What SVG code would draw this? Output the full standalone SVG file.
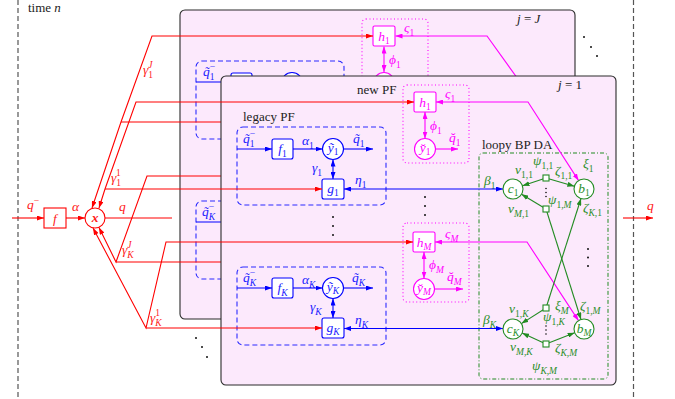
<svg xmlns="http://www.w3.org/2000/svg" width="675" height="399" viewBox="0 0 675 399">
<defs>
<style>
.m{font-family:"Liberation Serif","DejaVu Serif",serif;font-style:italic;font-size:13.5px}
.r{font-family:"Liberation Serif","DejaVu Serif",serif;font-size:13px;fill:#222}
.s{font-size:9.5px}
.d{font-style:normal}
.red{fill:#ff1a1a}
.blue{fill:#2020ff}
.mag{fill:#ff00ff}
.grn{fill:#2a8f2a}
.ink{fill:#222}
.panel{fill:#fce9fc;stroke:#2a2a2a;stroke-width:1.1}
.lr{fill:none;stroke:#ff0000;stroke-width:1.1}
.lb{fill:none;stroke:#0000ff;stroke-width:1.1}
.lm{fill:none;stroke:#ff00ff;stroke-width:1.1}
.lg{fill:none;stroke:#228b22;stroke-width:1.1}
.nr{fill:#fff;stroke:#ff0000;stroke-width:1.1}
.nb{fill:#fff;stroke:#0000ff;stroke-width:1.1}
.nm{fill:#fff;stroke:#ff00ff;stroke-width:1.1}
.ng{fill:#fff;stroke:#228b22;stroke-width:1.1}
.bbox{fill:none;stroke:#2a2aff;stroke-width:1.1;stroke-dasharray:5 3}
.mbox{fill:none;stroke:#ff00ff;stroke-width:1.1;stroke-dasharray:1 2.5}
.gbox{fill:none;stroke:#228b22;stroke-width:1;stroke-dasharray:4 2 1 2}
.sep{stroke:#555;stroke-width:1.2;stroke-dasharray:5 3}
.dot{fill:#111}
</style>
<marker id="aR" viewBox="0 0 7 5" refX="7" refY="2.5" markerWidth="7" markerHeight="5" markerUnits="userSpaceOnUse" orient="auto-start-reverse"><path d="M0,0 L7,2.5 L0,5 z" fill="#ff0000"/></marker>
<marker id="aB" viewBox="0 0 7 5" refX="7" refY="2.5" markerWidth="7" markerHeight="5" markerUnits="userSpaceOnUse" orient="auto-start-reverse"><path d="M0,0 L7,2.5 L0,5 z" fill="#0000ff"/></marker>
<marker id="aM" viewBox="0 0 7 5" refX="7" refY="2.5" markerWidth="7" markerHeight="5" markerUnits="userSpaceOnUse" orient="auto-start-reverse"><path d="M0,0 L7,2.5 L0,5 z" fill="#ff00ff"/></marker>
<marker id="aG" viewBox="0 0 7 5" refX="7" refY="2.5" markerWidth="7" markerHeight="5" markerUnits="userSpaceOnUse" orient="auto-start-reverse"><path d="M0,0 L7,2.5 L0,5 z" fill="#228b22"/></marker>
</defs>

<rect width="675" height="399" fill="#fff"/>

<g id="separators">
<line class="sep" x1="18" y1="0" x2="18" y2="399"/>
<line class="sep" x1="633.5" y1="0" x2="633.5" y2="399"/>
<text class="r" x="28" y="12">time <tspan font-style="italic">n</tspan></text>
</g>

<!-- ===== back panel j = J ===== -->
<g id="panel-J">
<rect class="panel" x="180" y="10" width="395" height="309" rx="5"/>
<text class="r" x="517" y="23"><tspan font-style="italic">j</tspan> = <tspan font-style="italic">J</tspan></text>
</g>
<g id="back-legacy-1">
<rect class="bbox" x="196" y="61" width="148" height="78" rx="6"/>
<text class="m blue" x="203" y="76">q̃<tspan class="s d" dy="3.5">1</tspan><tspan class="s d" dx="-4.8" dy="-10">−</tspan></text>
</g>
<g id="back-f1"><rect class="nb" x="231" y="73" width="21" height="19" rx="2"/></g>
<g id="back-y1"><circle class="nb" cx="292" cy="83" r="10.5"/></g>
<g id="back-legacy-K">
<rect class="bbox" x="196" y="201" width="148" height="78" rx="6"/>
<text class="m blue" x="202" y="216">q̃<tspan class="s" dy="3.5">K</tspan><tspan class="s d" dx="-6.3" dy="-10">−</tspan></text>
</g>
<g id="back-newpf-1">
<rect class="mbox" x="362" y="19" width="66" height="78" rx="4"/>
<text class="m mag" x="404" y="32">ς<tspan class="s d" dy="3.5">1</tspan></text>
<text class="m mag" x="389" y="64">ϕ<tspan class="s d" dy="3.5">1</tspan></text>
</g>
<g id="back-h1">
<rect class="nm" x="373" y="26" width="22" height="20" rx="1.5"/>
<text class="m mag" x="384" y="40.5" text-anchor="middle">h<tspan class="s d" dy="3.5">1</tspan></text>
</g>
<g id="back-ybreve1"><circle class="nm" cx="384" cy="83" r="10.5"/></g>

<g id="connectors-back">
<path class="lb" d="M196,82 L231,82" marker-end="url(#aB)"/>
<path class="lb" d="M196,222 L231,222" marker-end="url(#aB)"/>
<path class="lm" d="M384,46.5 L384,72" marker-start="url(#aM)" marker-end="url(#aM)"/>
<path class="lm" d="M395.5,36 L487,36 L543,114" marker-start="url(#aM)"/>
<path class="lr" d="M373,36 L152,36 L121,122 L92,208" marker-start="url(#aR)" marker-end="url(#aR)"/>
<path class="lr" d="M121,122 L320,122"/>
<path class="lr" d="M320,176 L147,176 L116,262 L99,227.5" marker-end="url(#aR)"/>
<path class="lr" d="M116,262 L320,262"/>
</g>

<!-- ===== front panel j = 1 ===== -->
<g id="panel-1">
<rect class="panel" x="221" y="76" width="395" height="309" rx="5"/>
<text class="r" x="558" y="89"><tspan font-style="italic">j</tspan> = 1</text>
<text class="r" x="357" y="94">new PF</text>
<text class="r" x="243" y="121">legacy PF</text>
<text class="r" x="482" y="149">loopy BP DA</text>
</g>

<g id="legacy-pf-1">
<rect class="bbox" x="237" y="127" width="149" height="78" rx="6"/>
<text class="m blue" x="243" y="143">q̃<tspan class="s d" dy="3.5">1</tspan><tspan class="s d" dx="-4.8" dy="-10">−</tspan></text>
<text class="m blue" x="302" y="145">α<tspan class="s d" dy="3.5">1</tspan></text>
<text class="m blue" x="353" y="143">q̃<tspan class="s d" dy="3.5">1</tspan></text>
<text class="m blue" x="312" y="172">γ<tspan class="s d" dy="3.5">1</tspan></text>
<text class="m blue" x="355" y="184">η<tspan class="s d" dy="3.5">1</tspan></text>
</g>
<g id="f1"><rect class="nb" x="272" y="139" width="21" height="20" rx="2"/><text class="m blue" x="282.5" y="153" text-anchor="middle">f<tspan class="s d" dy="3.5">1</tspan></text></g>
<g id="ytilde1"><circle class="nb" cx="333" cy="149" r="10.5"/><text class="m blue" x="333" y="152" text-anchor="middle">ỹ<tspan class="s d" dy="3">1</tspan></text></g>
<g id="g1"><rect class="nb" x="322" y="179" width="22" height="20" rx="2"/><text class="m blue" x="333" y="192.5" text-anchor="middle">g<tspan class="s d" dy="3.5">1</tspan></text></g>

<g id="legacy-pf-K">
<rect class="bbox" x="237" y="267" width="149" height="78" rx="6"/>
<text class="m blue" x="243" y="282">q̃<tspan class="s" dy="3.5">K</tspan><tspan class="s d" dx="-6.3" dy="-10">−</tspan></text>
<text class="m blue" x="302" y="284">α<tspan class="s" dy="3.5">K</tspan></text>
<text class="m blue" x="352" y="282">q̃<tspan class="s" dy="3.5">K</tspan></text>
<text class="m blue" x="310" y="311">γ<tspan class="s" dy="3.5">K</tspan></text>
<text class="m blue" x="355" y="324">η<tspan class="s" dy="3.5">K</tspan></text>
</g>
<g id="fK"><rect class="nb" x="272" y="278" width="21" height="20" rx="2"/><text class="m blue" x="282.5" y="292" text-anchor="middle">f<tspan class="s" dy="3.5">K</tspan></text></g>
<g id="ytildeK"><circle class="nb" cx="333" cy="288" r="10.5"/><text class="m blue" x="333" y="291" text-anchor="middle">ỹ<tspan class="s" dy="3">K</tspan></text></g>
<g id="gK"><rect class="nb" x="322" y="318" width="22" height="20" rx="2"/><text class="m blue" x="333" y="331.5" text-anchor="middle">g<tspan class="s" dy="3.5">K</tspan></text></g>

<g id="new-pf-1">
<rect class="mbox" x="403" y="85" width="66" height="78" rx="4"/>
<text class="m mag" x="445" y="98">ς<tspan class="s d" dy="3.5">1</tspan></text>
<text class="m mag" x="430" y="130">ϕ<tspan class="s d" dy="3.5">1</tspan></text>
<text class="m mag" x="449" y="142">q̆<tspan class="s d" dy="3.5">1</tspan></text>
</g>
<g id="h1"><rect class="nm" x="414" y="92" width="22" height="20" rx="1.5"/><text class="m mag" x="425" y="106.5" text-anchor="middle">h<tspan class="s d" dy="3.5">1</tspan></text></g>
<g id="ybreve1"><circle class="nm" cx="425" cy="149" r="10.5"/><text class="m mag" x="425" y="152" text-anchor="middle">y̆<tspan class="s d" dy="3">1</tspan></text></g>

<g id="new-pf-M">
<rect class="mbox" x="403" y="223" width="66" height="79" rx="4"/>
<text class="m mag" x="445" y="238">ς<tspan class="s" dy="3.5">M</tspan></text>
<text class="m mag" x="429" y="269">ϕ<tspan class="s" dy="3.5">M</tspan></text>
<text class="m mag" x="447" y="281">q̆<tspan class="s" dy="3.5">M</tspan></text>
</g>
<g id="hM"><rect class="nm" x="413" y="232" width="22" height="20" rx="1.5"/><text class="m mag" x="424" y="246.5" text-anchor="middle">h<tspan class="s" dy="3.5">M</tspan></text></g>
<g id="ybreveM"><circle class="nm" cx="424" cy="289" r="10.5"/><text class="m mag" x="424" y="292" text-anchor="middle">y̆<tspan class="s" dy="3">M</tspan></text></g>

<g id="loopy-bp-da">
<rect class="gbox" x="479" y="153" width="129" height="226" rx="4"/>
<text class="m grn" x="484" y="185">β<tspan class="s d" dy="3.5">1</tspan></text>
<text class="m grn" x="483" y="324">β<tspan class="s" dy="3.5">K</tspan></text>
<text class="m grn" x="515" y="174">ν<tspan class="s d" dy="3.5">1,1</tspan></text>
<text class="m grn" x="533" y="165">ψ<tspan class="s d" dy="3.5">1,1</tspan></text>
<text class="m grn" x="555" y="175">ζ<tspan class="s d" dy="3.5">1,1</tspan></text>
<text class="m grn" x="583" y="168">ξ<tspan class="s d" dy="3.5">1</tspan></text>
<text class="m grn" x="548" y="204">ψ<tspan class="s" dy="3.5"><tspan class="d">1,</tspan>M</tspan></text>
<text class="m grn" x="508" y="213">ν<tspan class="s" dy="3.5">M<tspan class="d">,1</tspan></tspan></text>
<text class="m grn" x="583" y="212">ζ<tspan class="s" dy="3.5">K<tspan class="d">,1</tspan></tspan></text>
<text class="m grn" x="509" y="313">ν<tspan class="s" dy="3.5"><tspan class="d">1,</tspan>K</tspan></text>
<text class="m grn" x="555" y="310">ξ<tspan class="s" dy="3.5">M</tspan></text>
<text class="m grn" x="580" y="310">ζ<tspan class="s" dy="3.5"><tspan class="d">1,</tspan>M</tspan></text>
<text class="m grn" x="543" y="321">ψ<tspan class="s" dy="3.5"><tspan class="d">1,</tspan>K</tspan></text>
<text class="m grn" x="510" y="351">ν<tspan class="s" dy="3.5">M,K</tspan></text>
<text class="m grn" x="555" y="352">ζ<tspan class="s" dy="3.5">K,M</tspan></text>
<text class="m grn" x="532" y="370">ψ<tspan class="s" dy="3.5">K,M</tspan></text>
</g>

<g id="node-f"><rect class="nr" x="44" y="208" width="22" height="20"/><text class="m red" x="55" y="222.5" text-anchor="middle">f</text></g>
<g id="node-x"><circle class="nr" cx="95" cy="218" r="10"/><text class="m red" x="95" y="221.5" text-anchor="middle" font-weight="bold">x</text></g>

<g id="connectors">
<path class="lr" d="M12,218 L44,218" marker-end="url(#aR)"/>
<path class="lr" d="M66,218 L85,218" marker-end="url(#aR)"/>
<path class="lr" d="M105,218 L172,218"/>
<path class="lr" d="M623,218 L653,218" marker-end="url(#aR)"/>
<path class="lr" d="M414,102 L136,102 L105,189 L99,208" marker-start="url(#aR)" marker-end="url(#aR)"/>
<path class="lr" d="M105,189 L322,189" marker-end="url(#aR)"/>
<path class="lr" d="M413,242 L166,242 L146,328 L93,228" marker-start="url(#aR)" marker-end="url(#aR)"/>
<path class="lr" d="M146,328 L322,328" marker-end="url(#aR)"/>
<path class="lb" d="M237,149 L272,149" marker-end="url(#aB)"/>
<path class="lb" d="M293,149 L322.5,149" marker-end="url(#aB)"/>
<path class="lb" d="M343.5,149 L373,149" marker-end="url(#aB)"/>
<path class="lb" d="M333,159.5 L333,179" marker-start="url(#aB)" marker-end="url(#aB)"/>
<path class="lb" d="M344,189 L503,189" marker-start="url(#aB)" marker-end="url(#aB)"/>
<path class="lb" d="M237,288 L272,288" marker-end="url(#aB)"/>
<path class="lb" d="M293,288 L322.5,288" marker-end="url(#aB)"/>
<path class="lb" d="M343.5,288 L373,288" marker-end="url(#aB)"/>
<path class="lb" d="M333,298.5 L333,318" marker-start="url(#aB)" marker-end="url(#aB)"/>
<path class="lb" d="M344,328.5 L503,328.5" marker-start="url(#aB)" marker-end="url(#aB)"/>
<path class="lm" d="M425,112 L425,138.5" marker-start="url(#aM)" marker-end="url(#aM)"/>
<path class="lm" d="M435.5,149 L458,149" marker-end="url(#aM)"/>
<path class="lm" d="M436,102 L528,102 L578.6,180.6" marker-start="url(#aM)" marker-end="url(#aM)"/>
<path class="lm" d="M424,252 L424,278.5" marker-start="url(#aM)" marker-end="url(#aM)"/>
<path class="lm" d="M434.5,289 L463,289" marker-end="url(#aM)"/>
<path class="lm" d="M435,242 L527,242 L578.5,320.6" marker-start="url(#aM)" marker-end="url(#aM)"/>
<path class="lg" d="M546,178 L522.5,185.8" marker-end="url(#aG)"/>
<path class="lg" d="M546,178 L574.4,186.2" marker-end="url(#aG)"/>
<path class="lg" d="M546,209 L521.5,194.2" marker-end="url(#aG)"/>
<path class="lg" d="M546,209 L581,319.5" marker-end="url(#aG)"/>
<path class="lg" d="M546,308 L581,198.5" marker-end="url(#aG)"/>
<path class="lg" d="M546,308 L521.4,323.6" marker-end="url(#aG)"/>
<path class="lg" d="M546,344 L522.1,333.1" marker-end="url(#aG)"/>
<path class="lg" d="M546,344 L574.7,332.7" marker-end="url(#aG)"/>
</g>

<g id="c1"><circle class="ng" cx="513" cy="189" r="10"/><text class="m grn" x="513" y="192.5" text-anchor="middle">c<tspan class="s d" dy="3">1</tspan></text></g>
<g id="b1"><circle class="ng" cx="584" cy="189" r="10"/><text class="m grn" x="584" y="192.5" text-anchor="middle">b<tspan class="s d" dy="3">1</tspan></text></g>
<g id="cK"><circle class="ng" cx="513" cy="329" r="10"/><text class="m grn" x="513" y="332.5" text-anchor="middle">c<tspan class="s" dy="3">K</tspan></text></g>
<g id="bM"><circle class="ng" cx="584" cy="329" r="10"/><text class="m grn" x="584" y="332.5" text-anchor="middle">b<tspan class="s" dy="3">M</tspan></text></g>
<g id="psi-1-1"><rect class="ng" x="543" y="175" width="6" height="6"/></g>
<g id="psi-1-M"><rect class="ng" x="543" y="206" width="6" height="6"/></g>
<g id="psi-1-K"><rect class="ng" x="543" y="305" width="6" height="6"/></g>
<g id="psi-K-M"><rect class="ng" x="543" y="341" width="6" height="6"/></g>

<g id="labels-gamma">
<text class="m red" x="27" y="209">q<tspan class="s d" dy="-5.5">−</tspan></text>
<text class="m red" x="72" y="211">α</text>
<text class="m red" x="119" y="211">q</text>
<text class="m red" x="647" y="210">q</text>
<text class="m red" x="143" y="74">γ<tspan class="s d" dy="3.5">1</tspan><tspan class="s" dx="-4.8" dy="-10">J</tspan></text>
<text class="m red" x="111" y="182">γ<tspan class="s d" dy="3.5">1</tspan><tspan class="s d" dx="-4.8" dy="-10">1</tspan></text>
<text class="m red" x="122" y="254">γ<tspan class="s" dy="3.5">K</tspan><tspan class="s" dx="-6.3" dy="-10">J</tspan></text>
<text class="m red" x="150" y="322">γ<tspan class="s" dy="3.5">K</tspan><tspan class="s d" dx="-6.3" dy="-10">1</tspan></text>
</g>

<g id="ellipses">
<circle class="dot" cx="333" cy="217" r="1"/><circle class="dot" cx="333" cy="226" r="1"/><circle class="dot" cx="333" cy="235" r="1"/>
<circle class="dot" cx="425" cy="197" r="1"/><circle class="dot" cx="425" cy="206" r="1"/><circle class="dot" cx="425" cy="215" r="1"/>
<circle class="dot" cx="546" cy="188.5" r="0.8"/><circle class="dot" cx="546" cy="192.5" r="0.8"/><circle class="dot" cx="546" cy="196.5" r="0.8"/>
<circle class="dot" cx="546" cy="326" r="0.8"/><circle class="dot" cx="546" cy="330" r="0.8"/><circle class="dot" cx="546" cy="334" r="0.8"/>
<circle class="dot" cx="588" cy="249" r="1"/><circle class="dot" cx="588" cy="257.5" r="1"/><circle class="dot" cx="588" cy="266" r="1"/>
<circle class="dot" cx="584" cy="37" r="1"/><circle class="dot" cx="591" cy="47" r="1"/><circle class="dot" cx="597" cy="56" r="1"/>
<circle class="dot" cx="196" cy="338" r="1"/><circle class="dot" cx="202" cy="347" r="1"/><circle class="dot" cx="207" cy="357" r="1"/>
</g>
</svg>
